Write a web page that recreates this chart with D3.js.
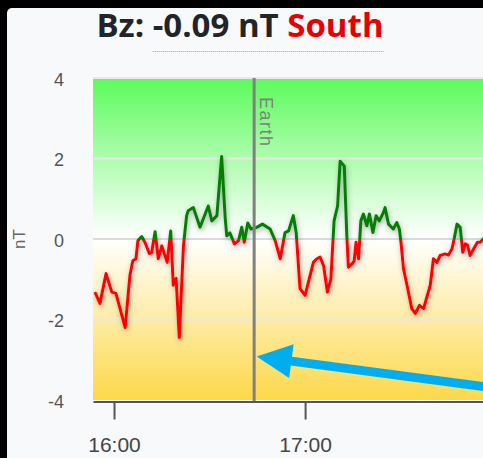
<!DOCTYPE html>
<html>
<head>
<meta charset="utf-8">
<script src="https://cdn.jsdelivr.net/npm/d3@7"></script>
<style>
  body { margin: 0; background: #000; overflow: hidden; }
  #chart { position: absolute; left: 0; top: 0; }
</style>
</head>
<body>
<div id="chart"></div>
<script>
// Bz samples, minutes relative to 16:00
const minutes = [-6, -4.4, -2.5, -0.7, 0.6, 3.5, 5.0, 5.9, 6.9, 7.5, 8.7, 9.7, 11.1, 11.8, 12.9, 13.9,
  15.0, 16.7, 17.8, 18.6, 19.5, 20.5, 21.8, 22.8, 23.3, 24.9, 27.0, 29.6, 30.7, 32.3, 33.8, 34.9,
  35.4, 36.4, 37.8, 39.1, 40.1, 40.9, 42.0, 43.0, 44.8, 46.6, 49.0, 50.6, 52.2, 53.7, 54.8, 56.3,
  57.2, 58.4, 60.0, 62.6, 63.7, 64.7, 65.8, 67.0, 68.1, 69.1, 70.2, 71.0, 72.3, 73.1, 73.6, 74.7,
  75.4, 76.0, 76.8, 77.5, 78.3, 79.4, 80.2, 81.3, 82.3, 83.3, 84.6, 85.1, 86.2, 87.7, 88.8, 89.6,
  90.1, 90.9, 92.0, 93.5, 94.6, 95.9, 97.2, 99.3, 100.3, 101.4, 102.4, 104.0, 105.0, 106.1, 106.8,
  107.7, 108.7, 109.5, 110.3, 111.0, 111.8, 112.9, 114.1, 115.0, 116.5, 118.0]
const bz = [-1.32, -1.6, -0.86, -1.32, -1.35, -2.2, -0.9, -0.54, -0.49, -0.04, 0.06, -0.08, -0.36, -0.34, 0.18, -0.49,
  -0.17, -0.58, 0.2, -1.15, -0.98, -2.45, -0.17, 0.58, 0.7, 0.78, 0.29, 0.82, 0.45, 0.58, 2.05, 0.53,
  0.08, 0.15, -0.12, -0.04, 0.29, -0.08, 0.4, 0.25, 0.29, 0.37, 0.25, -0.04, -0.49, 0.16, 0.2, 0.58,
  0.16, -1.23, -1.4, -0.58, -0.49, -0.45, -0.66, -1.32, -0.99, 0.45, 0.82, 1.93, 1.81, 0.08, -0.7, -0.62,
  -0.55, -0.08, -0.49, 0.45, 0.62, 0.33, 0.62, 0.16, 0.58, 0.45, 0.66, 0.78, 0.37, 0.25, 0.41, 0.25,
  -0.08, -0.74, -1.15, -1.73, -1.85, -1.65, -1.73, -1.15, -0.49, -0.58, -0.41, -0.37, -0.4, -0.25, 0,
  0.37, 0.29, -0.33, -0.12, -0.15, -0.41, -0.25, -0.08, -0.08, 0.05, -0.09]
const yTicks = [4, 2, 0, -2, -4]
const gridValues = [4, 2, -2]
const earthMinute = 44
const arrowTail = [128, -3.79]   // [minute, nT]
const arrowTip = [44.8, -2.92]

const base = new Date(2024, 0, 1, 16, 0)
const toDate = m => new Date(base.getTime() + m * 60000)
const data = minutes.map((m, i) => ({t: toDate(m), v: bz[i]}))
const current = bz[bz.length - 1]

const width = 483, height = 458
const svg = d3.select('#chart').append('svg').attr('width', width).attr('height', height)

// panel
svg.append('rect').attr('x', 7).attr('y', 8).attr('width', width).attr('height', height)
  .attr('rx', 5).attr('fill', '#f8f9fa')

const x = d3.scaleTime().domain([toDate(-6.6), toDate(119)]).range([93, 493])
const y = d3.scaleLinear().domain([-4, 4]).range([400, 78])

const defs = svg.append('defs')
const grad = defs.append('linearGradient').attr('id', 'bg')
  .attr('x1', 0).attr('y1', 0).attr('x2', 0).attr('y2', 1)
grad.append('stop').attr('offset', '0%').attr('stop-color', '#5cfb5c')
grad.append('stop').attr('offset', '50%').attr('stop-color', '#ffffff')
grad.append('stop').attr('offset', '100%').attr('stop-color', '#fcd84a')

const shadow = defs.append('filter').attr('id', 'shadow')
  .attr('x', '-10%').attr('y', '-10%').attr('width', '120%').attr('height', '120%')
shadow.append('feDropShadow').attr('dx', 1).attr('dy', 2).attr('stdDeviation', 2.5)
  .attr('flood-color', '#555').attr('flood-opacity', 0.5)

defs.append('clipPath').attr('id', 'above').append('rect')
  .attr('x', 0).attr('y', 0).attr('width', 600).attr('height', y(0))
defs.append('clipPath').attr('id', 'below').append('rect')
  .attr('x', 0).attr('y', y(0)).attr('width', 600).attr('height', 400)

// plot background
svg.append('rect').attr('x', x.range()[0]).attr('y', y(4))
  .attr('width', x.range()[1] - x.range()[0]).attr('height', y(-4) - y(4))
  .attr('fill', 'url(#bg)')

svg.selectAll('.grid').data(gridValues).enter().append('line')
  .attr('x1', x.range()[0]).attr('x2', x.range()[1])
  .attr('y1', d => y(d)).attr('y2', d => y(d))
  .attr('stroke', '#ece6e6').attr('stroke-width', 2)
svg.append('line').attr('x1', x.range()[0]).attr('x2', x.range()[1])
  .attr('y1', y(0)).attr('y2', y(0)).attr('stroke', '#cfcfcf').attr('stroke-width', 1.5)

// y labels
svg.selectAll('.ylab').data(yTicks).enter().append('text')
  .attr('x', 64).attr('y', d => y(d) + 3)
  .attr('text-anchor', 'end').attr('dominant-baseline', 'middle')
  .style('font-family', 'Liberation Sans, Arial, sans-serif').style('font-size', '18px')
  .attr('fill', '#555').text(d => d)

svg.append('text').attr('transform', `translate(25, ${y(0)}) rotate(-90)`)
  .attr('text-anchor', 'middle')
  .style('font-family', 'Liberation Sans, Arial, sans-serif').style('font-size', '17px')
  .attr('fill', '#666').text('nT')

// Bz line, green above zero and red below
const line = d3.line().x(d => x(d.t)).y(d => y(d.v))
const lines = svg.append('g').attr('filter', 'url(#shadow)')
lines.append('path').datum(data).attr('d', line).attr('clip-path', 'url(#above)')
  .attr('fill', 'none').attr('stroke', '#008000').attr('stroke-width', 3).attr('stroke-linejoin', 'round')
lines.append('path').datum(data).attr('d', line).attr('clip-path', 'url(#below)')
  .attr('fill', 'none').attr('stroke', '#ff0000').attr('stroke-width', 3).attr('stroke-linejoin', 'round')

// Earth marker
const ex = x(toDate(earthMinute))
svg.append('line').attr('x1', ex).attr('x2', ex).attr('y1', y(4)).attr('y2', y(-4) + 1)
  .attr('stroke', '#808080').attr('stroke-width', 3)
svg.append('text').attr('transform', `translate(${ex + 6}, ${y(4) + 19}) rotate(90)`)
  .style('font-family', 'Liberation Sans, Arial, sans-serif').style('font-size', '18px')
  .style('letter-spacing', '1.5px').attr('fill', '#808080').text('Earth')

// x axis
const xAxis = svg.append('g').attr('transform', 'translate(0, 401.5)')
  .call(d3.axisBottom(x).ticks(d3.timeHour.every(1)).tickFormat(d3.timeFormat('%H:%M'))
    .tickSize(18).tickSizeOuter(0))
xAxis.select('.domain').attr('stroke', '#555').attr('stroke-width', 2)
xAxis.selectAll('.tick line').attr('stroke', '#555').attr('stroke-width', 2)
xAxis.selectAll('.tick text').attr('y', 36).attr('fill', '#444')
  .style('font-family', 'Liberation Sans, Arial, sans-serif').style('font-size', '21px')

// blue arrow
const tx = x(toDate(arrowTip[0])), ty = y(arrowTip[1])
const sx = x(toDate(arrowTail[0])), sy = y(arrowTail[1])
const ang = Math.atan2(sy - ty, sx - tx)
const ux = Math.cos(ang), uy = Math.sin(ang), px = -uy, py = ux
const headLen = 35, headHalf = 17, shaft = 4.5
const pts = [
  [tx, ty],
  [tx + ux * headLen + px * headHalf, ty + uy * headLen + py * headHalf],
  [tx + ux * headLen + px * shaft, ty + uy * headLen + py * shaft],
  [sx + px * shaft, sy + py * shaft],
  [sx - px * shaft, sy - py * shaft],
  [tx + ux * headLen - px * shaft, ty + uy * headLen - py * shaft],
  [tx + ux * headLen - px * headHalf, ty + uy * headLen - py * headHalf]
]
svg.append('path').attr('d', 'M' + pts.map(p => p.join(',')).join('L') + 'Z').attr('fill', '#00aeef')

// title
const title = svg.append('text').attr('x', 240).attr('y', 37).attr('text-anchor', 'middle')
  .style('font-family', 'Open Sans, sans-serif').style('font-size', '33px').style('font-weight', 'bold')
title.append('tspan').attr('fill', '#212529').text('Bz: ')
title.append('tspan').attr('fill', '#212529').text(`${current.toFixed(2)} nT `)
title.append('tspan').attr('fill', '#e60000').text(current < 0 ? 'South' : 'North')
const tnode = title.node()
const full = tnode.getComputedTextLength()
const startX = 240 - full / 2
const pre = tnode.getSubStringLength(0, 4)
svg.append('line').attr('x1', startX + pre).attr('x2', startX + full)
  .attr('y1', 51.5).attr('y2', 51.5)
  .attr('stroke', '#999').attr('stroke-width', 1).attr('stroke-dasharray', '1,1')
</script>
</body>
</html>
